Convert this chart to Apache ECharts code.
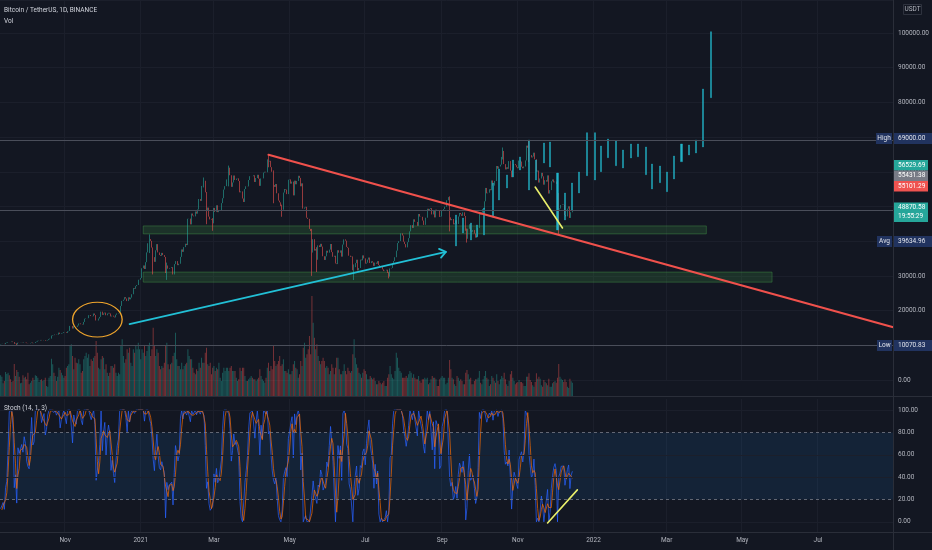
<!DOCTYPE html>
<html>
<head>
<meta charset="utf-8">
<title>BTCUSDT 1D</title>
<script src="https://cdn.jsdelivr.net/npm/echarts@6/dist/echarts.min.js"></script>
<style>
html, body { margin: 0; padding: 0; background: #131722; }
#main { width: 932px; height: 550px; }
</style>
</head>
<body>
<div id="main"></div>
<script>
// daily closes (USDT), Aug 27 2020 .. Dec 15 2021
var warmCloses = [11330,11530,11480,11710,11650,11920,11390,10170,10470,10170,10260,10380,10130,10230];
var close_2020_09 = [10340,10390,10440,10330,10680,10780,10950,10940,10930,11080,10920,10420,10530,10240,10740,10690,10730,10770,10700,10840,10780];
var close_2020_10 = [10620,10570,10550,10670,10790,10600,10670,10920,11060,11300,11380,11540,11430,11430,11510,11320,11370,11500,11750,11920,12800,12970,12930,13110,13030,13070,13650,13280,13460,13560,13800];
var close_2020_11 = [13760,13550,14030,14150,15590,15590,14840,15480,15330,15300,15700,16280,16320,16070,15960,16730,17660,17800,17820,18680,18710,18420,18370,19160,18720,17150,17140,17720,18180,19700];
var close_2020_12 = [18770,19210,19420,18650,19150,19360,19170,18320,18550,18250,18040,18800,19170,19270,19440,21340,22800,23140,23870,23480,22740,23820,23250,23730,24710,26490,26280,27040,27370,28880,28920];
var close_2021_01 = [29370,32200,33000,31990,33950,36770,39410,40600,40090,38150,35400,34050,37370,39150,36770,36010,35790,36630,36000,35470,30830,33000,32080,32260,32250,32510,30410,33400,34260,34260,33090];
var close_2021_02 = [33500,35480,37620,36930,38290,39260,38870,46450,46510,44840,47970,47390,47150,48560,47930,49130,52150,51610,55920,55880,57410,54090,48890,49680,47070,46280,46110,45140];
var close_2021_03 = [49590,48440,50350,48370,48750,48880,50970,52380,54880,55860,57790,57820,61180,59000,55660,56920,58920,57650,58030,58100,57350,54080,54340,52300,51300,55030,55820,55780,57630,58730,58740];
var close_2021_04 = [58720,58990,57060,58200,59130,57990,55950,58080,58090,59770,60000,59860,63580,62960,63160,61330,60010,56150,55660,56470,53800,51700,51190,50100,49060,54020,55040,54860,53560,57700];
var close_2021_05 = [57800,56580,57170,53200,57440,56400,57360,58840,58240,55820,56670,49380,49700,49900,46760,46430,43540,42910,36730,40570,37290,37720,34650,38800,38320,39240,38440,35660,34600,35640,37250];
var close_2021_06 = [36690,37570,39190,36850,35520,35800,33580,33400,37390,36690,37340,35550,39020,40520,40140,38350,38090,35820,35480,35600,31610,32510,33690,34660,31580,32280,34700,34490,35910,35040];
var close_2021_07 = [33540,33800,34690,35290,33690,34220,33860,32880,33810,33510,34260,33090,32730,32820,31870,31390,31530,31780,30840,29790,32140,32290,33650,34290,35380,37270,39460,40020,40030,42240,41630];
var close_2021_08 = [39850,39150,38210,39720,40870,42840,44610,43820,46290,45590,45550,44430,47830,47100,47020,45940,44690,44710,46770,49340,48870,49280,49520,47710,48990,46850,49070,48900,48810,46990,47110];
var close_2021_09 = [48810,49250,49940,49940,51790,52700,46860,46050,46400,44850,45170,46030,44960,47110,48140,47760,47300,48310,47260,43000,40700,43580,44880,42840,42710,43210,42200,41030,41520,43820];
var close_2021_10 = [48140,47660,48230,49250,51490,55340,53800,53970,54970,54690,57490,56010,57370,57350,61670,60880,61530,62040,64280,66000,62210,60690,61290,60860,63080,60330,58450,60590,62250,61890,61320];
var close_2021_11 = [61000,63230,62940,61450,61010,61530,63270,67530,66940,64880,64810,64140,64400,65500,63610,60060,60350,56900,58070,59700,58680,56290,57570,57160,58960,53730,54720,57270,57800,56950];
var close_2021_12 = [57180,56480,53600,49150,49400,50440,50590,50470,47550,47140,49390,50050,46700,48340,48870];

// long wicks worth keeping: date, low, high
var wicks = [
    ['2020-09-23', 10070.83, 10560], ['2021-01-08', 36570, 41950], ['2021-01-11', 30420, 38200],
    ['2021-01-22', 28850, 33830], ['2021-02-21', 55480, 58350], ['2021-02-23', 44890, 54180],
    ['2021-02-28', 43000, 46620], ['2021-03-13', 55800, 61780], ['2021-04-14', 61300, 64850],
    ['2021-04-18', 50930, 60400], ['2021-04-25', 47040, 50520], ['2021-05-19', 30000, 43550],
    ['2021-05-23', 31110, 38270], ['2021-06-22', 28800, 33300], ['2021-07-20', 29280, 31060],
    ['2021-09-07', 42830, 52920], ['2021-09-21', 39600, 43640], ['2021-10-20', 63550, 67000],
    ['2021-11-10', 62800, 69000], ['2021-12-04', 42000, 53860]
];

// volume, thousands of BTC
var vol_2020_09 = [62,58,38,45,72,66,70,62,50,42,45,96,60,78,72,58,38,40,62,55,58];
var vol_2020_10 = [50,70,35,40,45,55,48,62,60,55,42,48,50,45,48,55,30,28,55,60,112,95,70,60,45,58,85,78,70,62,55];
var vol_2020_11 = [60,85,90,95,150,155,120,80,115,100,98,110,95,70,75,110,120,130,115,125,90,110,105,115,120,165,130,85,80,110];
var vol_2020_12 = [120,115,80,95,70,60,70,90,90,85,95,70,60,70,65,150,170,120,100,110,140,130,145,100,90,140,130,150,140,160,140];
var vol_2021_01 = [110,140,130,150,120,135,150,160,120,140,205,150,120,140,130,90,80,90,85,100,150,160,95,80,95,100,120,130,190,110,90];
var vol_2021_02 = [90,80,100,80,90,95,100,140,120,110,110,85,70,65,80,75,100,85,115,100,100,130,145,95,90,100,65,85];
var vol_2021_03 = [90,75,85,80,100,55,45,70,85,75,85,85,75,85,90,75,75,75,55,45,50,85,75,85,85,60,45,45,50,55,60];
var vol_2021_04 = [55,50,50,45,50,55,80,60,50,45,40,55,85,100,75,90,80,150,105,90,95,105,120,90,95,110,75,75,70,80];
var vol_2021_05 = [65,65,75,95,105,85,80,55,65,105,90,145,160,115,125,140,180,125,300,220,175,140,155,120,105,95,105,115,105,85,90];
var vol_2021_06 = [85,65,75,95,85,65,85,115,115,80,65,65,75,95,75,65,85,75,70,75,125,170,115,95,85,70,65,55,70,80];
var vol_2021_07 = [75,65,50,50,60,55,50,55,45,35,35,45,40,35,40,45,30,30,55,65,90,65,55,50,75,130,115,85,75,70,55];
var vol_2021_08 = [55,55,60,55,65,75,70,55,65,55,50,50,60,45,40,50,50,55,50,55,35,40,50,60,55,55,50,30,30,50,55];
var vol_2021_09 = [60,55,55,35,40,55,108,80,55,50,35,30,60,55,45,50,45,35,35,70,78,65,50,55,35,35,45,50,50,55];
var vol_2021_10 = [75,40,35,50,60,75,55,50,30,35,60,55,45,40,65,45,35,50,60,55,70,50,35,30,45,65,75,55,45,35,40];
var vol_2021_11 = [42,48,42,42,38,30,30,58,58,68,48,42,32,28,42,68,52,58,52,32,28,48,42,38,32,52,28,28,38,42];
var vol_2021_12 = [45,40,55,96,58,52,48,42,50,42,28,24,52,44,40];

// projected bars (bars pattern drawing)
var projDates = ['2021-09-12','2021-09-18','2021-09-24','2021-09-29','2021-10-05','2021-10-12','2021-10-17','2021-10-23','2021-10-28','2021-11-03','2021-11-10','2021-11-16','2021-11-22','2021-11-27','2021-12-03','2021-12-09','2021-12-15','2021-12-20','2021-12-27','2022-01-02','2022-01-07','2022-01-13','2022-01-19','2022-01-25','2022-01-31','2022-02-06','2022-02-12','2022-02-17','2022-02-24','2022-03-01','2022-03-07','2022-03-13','2022-03-19','2022-03-25','2022-03-30','2022-04-06'];
var projLows = [38620,42360,40350,41210,41790,46970,51870,55330,58500,60520,54760,57640,62540,61380,43230,46110,48990,53890,58870,57640,60030,64060,61760,61100,63980,64350,59170,55040,56860,54270,57930,62910,64840,65420,67150,81350];
var projHighs = [47550,46690,45240,44670,49570,56770,60810,59080,63400,64270,69160,63400,68300,68590,59650,53890,56770,59940,71270,71270,67430,69450,68880,66280,68010,68010,67150,62250,61670,59940,64550,68010,67720,69160,83860,100370];

// drawings: [date, price] pairs, zones [from, to, bottom, top]
var zones = [['2021-01-03', '2022-04-02', 42100, 44400], ['2021-01-03', '2022-05-25', 28200, 31100]];
var redLine = [['2021-04-14', 64900], ['2022-08-30', 15270]];
var cyanArrow = [['2020-12-23', 16100], ['2021-09-04', 36900]];
var yellowPrice = [['2021-11-15', 55600], ['2021-12-07', 43800]];
var yellowStoch = [['2021-11-25', -1], ['2021-12-19', 28.6]];
var ellipseBox = ['2020-11-07', '2020-12-17', 22400, 12400];

var priceTicks = [0, 109500, 10000];
var stochTicks = [-10, 110, 10];

var monthNames = ['Jan','Feb','Mar','Apr','May','Jun','Jul','Aug','Sep','Oct','Nov','Dec'];
var gridColor = '#1b1f2b';
var upColor = '#26a69a', downColor = '#ef5350';
var textColor = '#b2b5be';
var fontFamily = 'Roboto, "Noto Sans", sans-serif';
var fs = 6.5;

// category dates, Sep 10 2020 .. Aug 30 2022
var dates = [];
var t0 = Date.UTC(2020, 8, 10);
for (var i = 0; i < 720; i++) {
    dates.push(new Date(t0 + i * 86400000).toISOString().slice(0, 10));
}
function idx(d) { return dates.indexOf(d); }

var closes = [].concat(close_2020_09, close_2020_10, close_2020_11, close_2020_12,
    close_2021_01, close_2021_02, close_2021_03, close_2021_04, close_2021_05, close_2021_06,
    close_2021_07, close_2021_08, close_2021_09, close_2021_10, close_2021_11, close_2021_12);
var volumes = [].concat(vol_2020_09, vol_2020_10, vol_2020_11, vol_2020_12,
    vol_2021_01, vol_2021_02, vol_2021_03, vol_2021_04, vol_2021_05, vol_2021_06,
    vol_2021_07, vol_2021_08, vol_2021_09, vol_2021_10, vol_2021_11, vol_2021_12);

var wickMap = {};
wicks.forEach(function (w) { wickMap[w[0]] = w; });

var allCloses = warmCloses.concat(closes);
var allHigh = [], allLow = [], candleData = [];
for (var i = 0; i < allCloses.length; i++) {
    var c = allCloses[i];
    var o = i > 0 ? allCloses[i - 1] : c;
    var h = Math.max(o, c), l = Math.min(o, c);
    var d = i - warmCloses.length;
    if (d >= 0 && wickMap[dates[d]]) {
        l = Math.min(l, wickMap[dates[d]][1]);
        h = Math.max(h, wickMap[dates[d]][2]);
    }
    allHigh.push(h);
    allLow.push(l);
    if (d >= 0) candleData.push([o, c, l, h]);
}

// Stoch 14, 1, 3
var kAll = [], dAll = [];
for (var i = 0; i < allCloses.length; i++) {
    if (i < 13) { kAll.push(null); continue; }
    var hh = -Infinity, ll = Infinity;
    for (var j = i - 13; j <= i; j++) {
        hh = Math.max(hh, allHigh[j]);
        ll = Math.min(ll, allLow[j]);
    }
    kAll.push(100 * (allCloses[i] - ll) / (hh - ll));
}
for (var i = 0; i < kAll.length; i++) {
    dAll.push(i >= 15 ? (kAll[i] + kAll[i - 1] + kAll[i - 2]) / 3 : null);
}
var stochK = kAll.slice(warmCloses.length);
var stochD = dAll.slice(warmCloses.length);

var volData = [];
for (var i = 0; i < volumes.length; i++) {
    var up = candleData[i][1] >= candleData[i][0];
    volData.push({value: volumes[i], itemStyle: {color: up ? 'rgba(38,166,154,0.45)' : 'rgba(239,83,80,0.45)'}});
}

var projData = [];
for (var i = 0; i < projDates.length; i++) {
    projData.push([idx(projDates[i]), projLows[i], projHighs[i], projLows[i], projHighs[i]]);
}

var zoneData = zones.map(function (z) {
    return [{coord: [z[0], z[3]]}, {coord: [z[1], z[2]]}];
});

function monthTick(index, value) {
    return value.slice(8) === '01' && parseInt(value.slice(5, 7), 10) % 2 === 1;
}

var chart = echarts.init(document.getElementById('main'));

var option = {
    backgroundColor: '#131722',
    animation: false,
    textStyle: {fontFamily: fontFamily},
    grid: [
        {left: 0, right: 39, top: 0, height: 380},
        {left: 0, right: 39, top: 296, height: 100},
        {left: 0, right: 39, top: 399, height: 134}
    ],
    xAxis: [
        {type: 'category', gridIndex: 0, data: dates, axisLine: {show: false}, axisTick: {show: false},
            axisLabel: {show: false}, splitLine: {show: true, interval: monthTick, lineStyle: {color: gridColor}}},
        {type: 'category', gridIndex: 1, data: dates, axisLine: {show: false}, axisTick: {show: false},
            axisLabel: {show: false}, splitLine: {show: false}},
        {type: 'category', gridIndex: 2, data: dates, axisLine: {show: false}, axisTick: {show: false},
            splitLine: {show: true, interval: monthTick, lineStyle: {color: gridColor}},
            axisLabel: {
                show: true, interval: monthTick, color: textColor, fontSize: fs, margin: 4,
                formatter: function (v) {
                    var m = parseInt(v.slice(5, 7), 10);
                    return m === 1 ? v.slice(0, 4) : monthNames[m - 1];
                }
            }}
    ],
    yAxis: [
        {type: 'value', gridIndex: 0, position: 'right', min: priceTicks[0], max: priceTicks[1], interval: priceTicks[2],
            axisLine: {show: false}, axisTick: {show: false},
            axisLabel: {color: textColor, fontSize: fs, margin: 5, showMaxLabel: false,
                formatter: function (v) { return v % 10000 === 0 ? v.toFixed(2) : ''; }},
            splitLine: {lineStyle: {color: gridColor}}},
        {type: 'value', gridIndex: 1, min: 0, max: 300, show: false},
        {type: 'value', gridIndex: 2, position: 'right', min: stochTicks[0], max: stochTicks[1], interval: stochTicks[2],
            axisLine: {show: false}, axisTick: {show: false},
            axisLabel: {color: textColor, fontSize: fs, margin: 5,
                formatter: function (v) { return (v >= 0 && v <= 100 && v % 20 === 0) ? v.toFixed(2) : ''; }},
            splitLine: {show: false}}
    ],
    series: [
        {
            name: 'Vol', type: 'bar', xAxisIndex: 1, yAxisIndex: 1,
            data: volData, barCategoryGap: '35%', silent: true
        },
        {
            name: 'BTCUSDT', type: 'candlestick', xAxisIndex: 0, yAxisIndex: 0,
            data: candleData, barWidth: 0.6, silent: true,
            itemStyle: {color: upColor, color0: downColor, borderColor: upColor, borderColor0: downColor,
                borderWidth: 0.8, opacity: 0.75},
            markArea: {
                silent: true,
                itemStyle: {color: 'rgba(67,160,71,0.2)', borderColor: 'rgba(76,175,80,0.35)', borderWidth: 1},
                data: zoneData
            },
            markLine: {
                silent: true, symbol: ['none', 'none'], label: {show: false},
                lineStyle: {color: '#4a4e5a', type: 'solid', width: 1},
                data: [{yAxis: 69000}, {yAxis: 48870.58}, {yAxis: 10070.83}]
            }
        },
        {
            name: 'Projection', type: 'candlestick', xAxisIndex: 0, yAxisIndex: 0,
            data: projData, encode: {x: 0, y: [1, 2, 3, 4]}, barWidth: 1.6, silent: true,
            itemStyle: {color: '#22b3c8', color0: '#22b3c8', borderColor: '#22b3c8', borderColor0: '#22b3c8', borderWidth: 0.4}
        },
        {
            name: '%K', type: 'line', xAxisIndex: 2, yAxisIndex: 2, data: stochK,
            showSymbol: false, silent: true, lineStyle: {color: '#2962ff', width: 0.8, opacity: 0.9},
            markArea: {
                silent: true, itemStyle: {color: 'rgba(33,150,243,0.1)'},
                data: [[{yAxis: 20}, {yAxis: 80}]]
            },
            markLine: {
                silent: true, symbol: ['none', 'none'], label: {show: false},
                data: [
                    {yAxis: 80, lineStyle: {color: '#787b86', type: [3, 3], width: 0.8}},
                    {yAxis: 20, lineStyle: {color: '#787b86', type: [3, 3], width: 0.8}},
                    {yAxis: 0, lineStyle: {color: gridColor, type: 'solid', width: 1}},
                    {yAxis: 40, lineStyle: {color: gridColor, type: 'solid', width: 1}},
                    {yAxis: 60, lineStyle: {color: gridColor, type: 'solid', width: 1}},
                    {yAxis: 100, lineStyle: {color: gridColor, type: 'solid', width: 1}}
                ]
            }
        },
        {
            name: '%D', type: 'line', xAxisIndex: 2, yAxisIndex: 2, data: stochD,
            showSymbol: false, silent: true, lineStyle: {color: '#ff6d00', width: 0.8, opacity: 0.85}
        }
    ]
};
chart.setOption(option);

// drawings and price scale tags
function toPx(gi, pt) {
    return chart.convertToPixel({gridIndex: gi}, [idx(pt[0]), pt[1]]);
}
function segment(gi, line, color, width) {
    var a = toPx(gi, line[0]), b = toPx(gi, line[1]);
    return {type: 'line', z: 60, silent: true,
        shape: {x1: a[0], y1: a[1], x2: b[0], y2: b[1]},
        style: {stroke: color, lineWidth: width, lineCap: 'round'}};
}
function label(x, y, text, color, align) {
    return {type: 'text', z: 120, silent: true, x: x, y: y,
        style: {text: text, fill: color, fontSize: fs, fontFamily: fontFamily, align: align || 'left', verticalAlign: 'middle'}};
}
function box(x, y, w, h, fill, stroke) {
    return {type: 'rect', z: 110, silent: true, shape: {x: x, y: y, width: w, height: h},
        style: {fill: fill, stroke: stroke || null, lineWidth: stroke ? 0.8 : 0}};
}

var g = [];
g.push(segment(0, redLine, '#f0514c', 2.2));
g.push(segment(0, cyanArrow, '#22c0d6', 1.8));
g.push(segment(0, yellowPrice, '#e9ef6b', 1.6));
g.push(segment(2, yellowStoch, '#e9ef6b', 1.6));

// open arrow head at the end of the cyan line
var aS = toPx(0, cyanArrow[0]), aE = toPx(0, cyanArrow[1]);
var dx = aE[0] - aS[0], dy = aE[1] - aS[1], len = Math.sqrt(dx * dx + dy * dy);
var ux = dx / len, uy = dy / len;
g.push({type: 'polyline', z: 60, silent: true,
    shape: {points: [[aE[0] - 6 * ux - 4.5 * uy, aE[1] - 6 * uy + 4.5 * ux], aE, [aE[0] - 6 * ux + 4.5 * uy, aE[1] - 6 * uy - 4.5 * ux]]},
    style: {stroke: '#22c0d6', lineWidth: 1.8, fill: null, lineCap: 'round', lineJoin: 'round'}});

// ellipse around the November range
var eA = toPx(0, [ellipseBox[0], ellipseBox[2]]), eB = toPx(0, [ellipseBox[1], ellipseBox[3]]);
var rx = Math.abs(eB[0] - eA[0]) / 2, ry = Math.abs(eB[1] - eA[1]) / 2;
g.push({type: 'circle', z: 60, silent: true, x: (eA[0] + eB[0]) / 2, y: (eA[1] + eB[1]) / 2,
    scaleY: ry / rx, shape: {cx: 0, cy: 0, r: rx},
    style: {fill: null, stroke: '#f0a52c', lineWidth: 1.3, strokeNoScale: true}});

// pane separators and scale border
g.push({type: 'line', z: 100, silent: true, shape: {x1: 0, y1: 396.5, x2: 932, y2: 396.5}, style: {stroke: '#2a2e39', lineWidth: 1}});
g.push({type: 'line', z: 100, silent: true, shape: {x1: 0, y1: 532.5, x2: 932, y2: 532.5}, style: {stroke: '#2a2e39', lineWidth: 1}});
g.push({type: 'line', z: 100, silent: true, shape: {x1: 893.5, y1: 0, x2: 893.5, y2: 550}, style: {stroke: '#2a2e39', lineWidth: 1}});

// legends
g.push(label(4, 10, 'Bitcoin / TetherUS, 1D, BINANCE', '#d1d4dc'));
g.push(label(4, 21, 'Vol', '#d1d4dc'));
g.push(label(4, 408, 'Stoch (14, 1, 3)', '#d1d4dc'));

// USDT
g.push(box(903.5, 4.5, 18, 10, '#131722', '#363a45'));
g.push(label(912.5, 9.7, 'USDT', '#b2b5be', 'center'));

// price scale tags
var navy = '#21335f';
g.push(box(876, 133, 16, 11, navy)); g.push(label(884, 138.5, 'High', '#e0e3eb', 'center'));
g.push(box(894, 133, 38, 11, navy)); g.push(label(898, 138.5, '69000.00', '#e0e3eb'));
g.push(box(894, 160, 34, 10.5, '#26a69a')); g.push(label(898, 165.3, '56529.69', '#ffffff'));
g.push(box(894, 170.5, 34, 10.5, '#787b86')); g.push(label(898, 175.8, '55431.38', '#ffffff'));
g.push(box(894, 181, 34, 10.5, '#ef5350')); g.push(label(898, 186.3, '55101.29', '#ffffff'));
g.push(box(894, 202.5, 34, 19.5, '#26a69a'));
g.push(label(898, 207.6, '48870.58', '#ffffff')); g.push(label(898, 216.8, '19:55:29', '#ffffff'));
g.push(box(877, 236, 15, 11, navy)); g.push(label(884.5, 241.5, 'Avg', '#e0e3eb', 'center'));
g.push(box(894, 236, 38, 11, navy)); g.push(label(898, 241.5, '39634.96', '#e0e3eb'));
g.push(box(877, 340, 15, 11, navy)); g.push(label(884.5, 345.5, 'Low', '#e0e3eb', 'center'));
g.push(box(894, 340, 38, 11, navy)); g.push(label(898, 345.5, '10070.83', '#e0e3eb'));

chart.setOption({graphic: g});
</script>
</body>
</html>
